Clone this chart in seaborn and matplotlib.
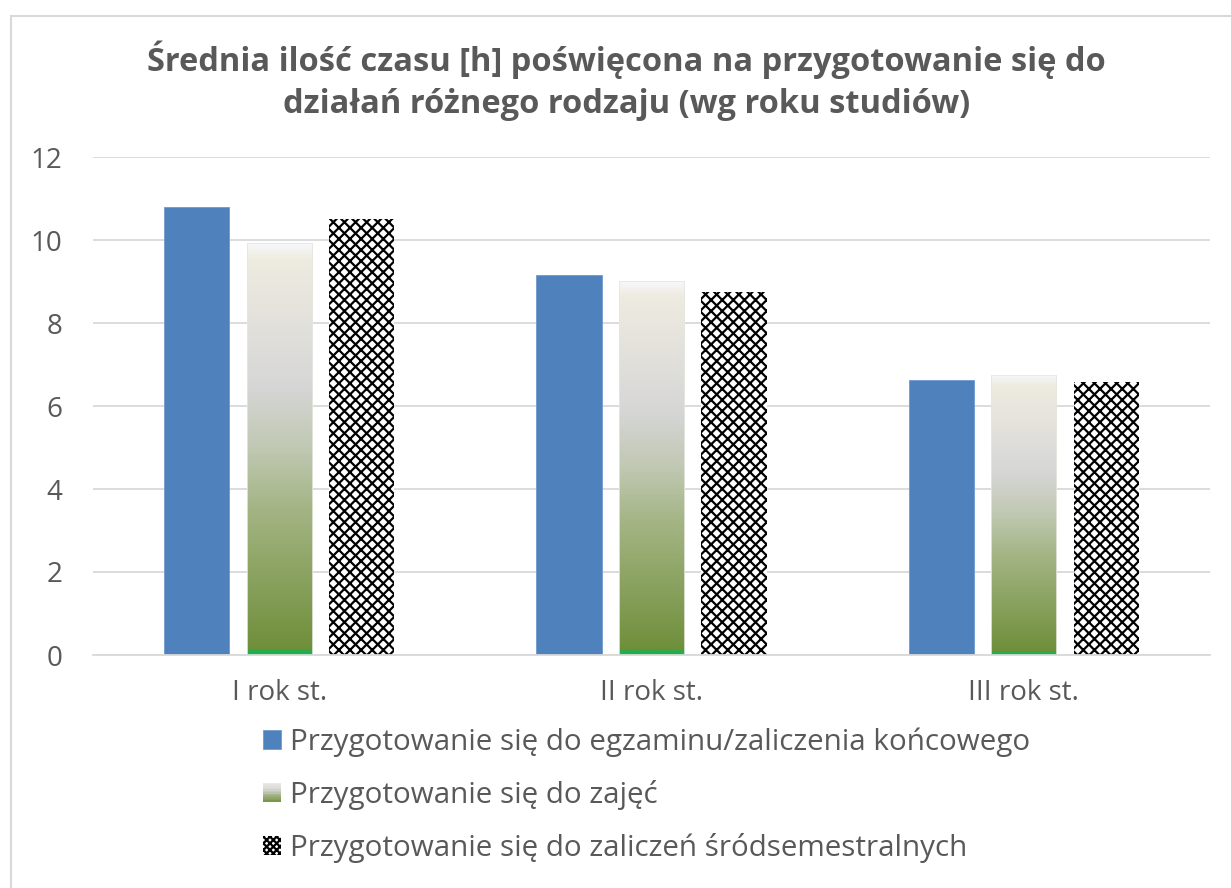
import numpy as np
import pandas as pd
import matplotlib
matplotlib.use("Agg")
import matplotlib.pyplot as plt
import seaborn as sns
from matplotlib.colors import LinearSegmentedColormap
from matplotlib.patches import Patch, Rectangle
from matplotlib.legend_handler import HandlerBase
from matplotlib.lines import Line2D

# ---- data ----
categories = ["I rok st.", "II rok st.", "III rok st."]
series_names = [
    "Przygotowanie się do egzaminu/zaliczenia końcowego",
    "Przygotowanie się do zajęć",
    "Przygotowanie się do zaliczeń śródsemestralnych",
]
egzamin = [10.8, 9.16, 6.63]
zajecia = [9.93, 9.02, 6.75]
srodsem = [10.5, 8.75, 6.58]
yticks = [0, 2, 4, 6, 8, 10, 12]

title = ("Średnia ilość czasu [h] poświęcona na przygotowanie się do\n"
         "działań różnego rodzaju (wg roku studiów)")

# ---- style ----
sns.set_theme(style="white")
plt.rcParams['font.family'] = ['Open Sans', 'DejaVu Sans']
plt.rcParams['hatch.color'] = 'black'
plt.rcParams['hatch.linewidth'] = 1.6
TXT = '#595959'
GRID = '#d9d9d9'
BLUE = '#4f81bd'

grad_cmap = LinearSegmentedColormap.from_list("grad", [
    (0.0, '#1fb04c'), (0.007, '#1fb04c'), (0.012, '#6f8f3a'),
    (0.35, '#a3b483'), (0.5, '#c0c8b2'), (0.65, '#d6d6d6'),
    (0.82, '#e3e2dc'), (0.96, '#eeebe0'), (1.0, '#f6f8fb')])

df = pd.DataFrame({
    'rok': categories * 3,
    'seria': [series_names[0]] * 3 + [series_names[1]] * 3 + [series_names[2]] * 3,
    'val': egzamin + zajecia + srodsem,
})

fig = plt.figure(figsize=(12.31, 8.88), dpi=100)
ax = fig.add_axes([93 / 1231, 1 - 655 / 888, (1210 - 93) / 1231, (655 - 157) / 888])

sns.barplot(data=df, x='rok', y='val', hue='seria', hue_order=series_names,
            palette=[BLUE, '#a3b483', 'white'], width=0.665, gap=0.21,
            legend=False, ax=ax, saturation=1, zorder=3)

# blue bars
for b in ax.containers[0]:
    b.set_facecolor(BLUE)
    b.set_edgecolor('#6f9bd1')
    b.set_linewidth(0.6)

# gradient bars
grad = np.linspace(0, 1, 600).reshape(-1, 1)
for b in ax.containers[1]:
    x, w, h = b.get_x(), b.get_width(), b.get_height()
    b.set_facecolor('none')
    b.set_edgecolor('#e4e8df')
    b.set_linewidth(0.6)
    im = ax.imshow(grad, extent=[x, x + w, 0, h], origin='lower', cmap=grad_cmap,
                   aspect='auto', zorder=2.9, interpolation='bilinear')
    im.set_clip_path(b)

# hatched bars
for b in ax.containers[2]:
    b.set_facecolor('white')
    b.set_edgecolor('black')
    b.set_hatch('xxx')
    b.set_linewidth(0)

ax.set_xlim(-0.5, 2.5)
ax.set_ylim(0, 12)
ax.set_yticks(yticks)
ax.set_xlabel('')
ax.set_ylabel('')
ax.yaxis.grid(True, color=GRID, linewidth=1.3, zorder=0)
ax.set_axisbelow(True)
for s in ['top', 'right', 'left']:
    ax.spines[s].set_visible(False)
ax.spines['bottom'].set_color(GRID)
ax.spines['bottom'].set_linewidth(1.3)
ax.spines['bottom'].set_zorder(4)
ax.tick_params(axis='y', length=0, pad=22, labelsize=20, labelcolor=TXT)
ax.tick_params(axis='x', length=0, pad=17, labelsize=20, labelcolor=TXT)

# title
fig.text(0.509, 0.909, title, ha='center', va='center', fontsize=23.5,
         fontweight='bold', color=TXT, linespacing=1.35)


# legend with gradient handle
class GradHandler(HandlerBase):
    def create_artists(self, legend, orig_handle, xdescent, ydescent, width,
                       height, fontsize, trans):
        arts = []
        n = 12
        for i in range(n):
            c = grad_cmap(0.05 + 0.9 * (i + 0.5) / n)
            r = Rectangle((-xdescent, -ydescent + i * height / n), width,
                          height / n + 0.3, facecolor=c, edgecolor='none',
                          transform=trans)
            arts.append(r)
        return arts


class GradProxy:
    pass


h_blue = Patch(facecolor=BLUE, edgecolor='#6f9bd1', linewidth=0.6)
h_grad = GradProxy()
h_hatch = Patch(facecolor='white', edgecolor='black', hatch='xxxxx', linewidth=0)

fig.legend([h_blue, h_grad, h_hatch], series_names, loc='center left',
           bbox_to_anchor=(263 / 1231, 1 - 795 / 888), frameon=False, fontsize=21.3,
           labelcolor=TXT, handlelength=0.6, handleheight=0.6,
           handletextpad=0.3, labelspacing=0.78, borderpad=0, borderaxespad=0,
           handler_map={GradProxy: GradHandler()})

# chart border (left and top edges)
fig.add_artist(Line2D([11 / 1231, 11 / 1231], [0, 1 - 16 / 888],
                      transform=fig.transFigure, color=GRID, linewidth=1.5))
fig.add_artist(Line2D([11 / 1231, 1], [1 - 16 / 888, 1 - 16 / 888],
                      transform=fig.transFigure, color=GRID, linewidth=1.5))

fig.savefig('out.png', dpi=100)
